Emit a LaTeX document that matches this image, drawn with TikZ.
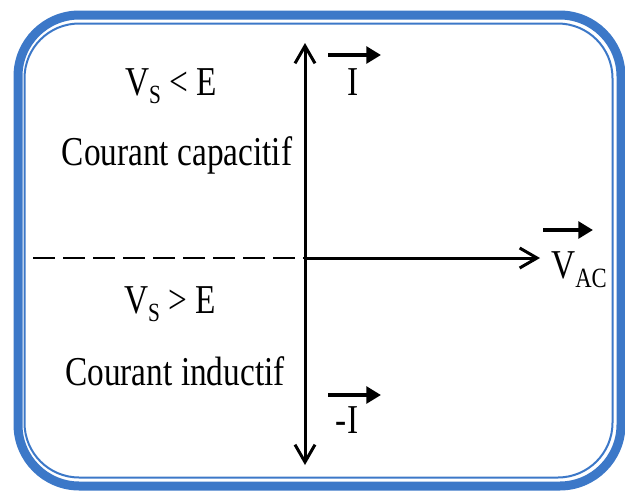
\documentclass[tikz,border=0pt]{standalone}
\usepackage{fontspec}
\setmainfont{Liberation Serif}
\usetikzlibrary{arrows.meta}
\definecolor{framecol}{HTML}{3C78C8}
\tikzset{
  lbl/.style={anchor=base, inner sep=0pt, font=\fontsize{25}{30}\selectfont},
  axisline/.style={line width=2.25pt},
  axistip/.style={-{Straight Barb[length=13pt,width=15pt]}},
  vec/.style={line width=3.6pt, -{Triangle[length=11pt,width=12.5pt]}},
  dashline/.style={line width=1.5pt, dash pattern=on 16.5pt off 6pt},
}
\newcommand{\tallbox}[1]{\scalebox{1}[1.23]{#1}}
\newcommand{\subtxt}[1]{\raisebox{-5pt}{\fontsize{16}{18}\selectfont #1}}
\begin{document}
\begin{tikzpicture}[x=0.75pt,y=-0.75pt]
\useasboundingbox[fill=white] (0,0) rectangle (625,501);
% frame
\draw[framecol, line width=6.75pt, rounded corners=46pt] (18,15) rectangle (621,486);
\draw[framecol, line width=1.5pt, rounded corners=41pt] (24.5,23.5) rectangle (612.5,477.5);
% axes
\coordinate (O) at (305,258);
\coordinate (top) at (305,43);
\coordinate (bot) at (305,465);
\coordinate (right) at (540,258);
\coordinate (left) at (33,258);
\draw[axisline, axistip] (O) -- (top);
\draw[axisline, axistip] (O) -- (bot);
\draw[axisline, axistip] (O) -- (right);
\draw[dashline] (left) -- (O);
% labels
\node[lbl] (t1) at (171,95) {\tallbox{V\subtxt{S} < E}};
\node[lbl] (t2) at (177,165) {\tallbox{Courant capacitif}};
\node[lbl] (t3) at (170,313) {\tallbox{V\subtxt{S} > E}};
\node[lbl] (t4) at (175,385) {\tallbox{Courant inductif}};
\node[lbl] (iI) at (353,95) {\tallbox{I}};
\node[lbl] (mI) at (347,433) {\tallbox{-I}};
\node[lbl, anchor=base west] (vac) at (551,278) {\tallbox{V\raisebox{-6pt}{\fontsize{17}{19}\selectfont AC}}};
% vector arrows
\coordinate (a1) at (328,55);  \coordinate (b1) at (381,55);
\coordinate (a2) at (328,395); \coordinate (b2) at (381,395);
\coordinate (a3) at (543,230); \coordinate (b3) at (593,230);
\draw[vec] (a1) -- (b1);
\draw[vec] (a2) -- (b2);
\draw[vec] (a3) -- (b3);
\end{tikzpicture}
\end{document}
